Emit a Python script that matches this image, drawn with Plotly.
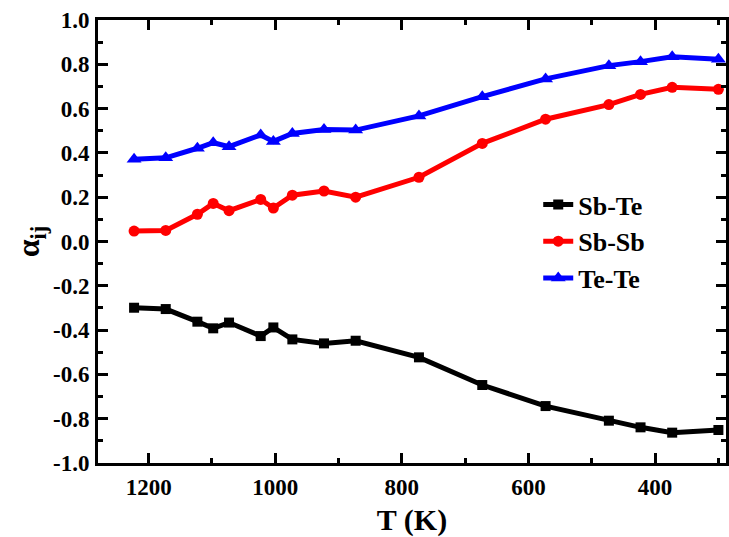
import plotly.graph_objects as go

temperature = [1223, 1173, 1123, 1098, 1073, 1023, 1003, 973, 923, 873,
               773, 673, 573, 473, 423, 373, 300]

sb_te = [-0.299, -0.305, -0.362, -0.392, -0.366, -0.427, -0.388, -0.442, -0.460,
         -0.448, -0.523, -0.648, -0.743, -0.809, -0.839, -0.863, -0.851]
sb_sb = [0.047, 0.050, 0.123, 0.172, 0.139, 0.190, 0.151, 0.209, 0.228, 0.200,
         0.290, 0.443, 0.552, 0.618, 0.664, 0.696, 0.687]
te_te = [0.371, 0.378, 0.421, 0.446, 0.428, 0.481, 0.452, 0.488, 0.506, 0.503,
         0.567, 0.654, 0.734, 0.794, 0.812, 0.834, 0.823]

series_names = ["Sb-Te", "Sb-Sb", "Te-Te"]
series_colors = ["#000000", "#ff0000", "#0000ff"]
series_symbols = ["square", "circle", "triangle-up"]
series_sizes = [10, 11, 13]

x_tickvals = [1200, 1000, 800, 600, 400]
x_ticktext = ["1200", "1000", "800", "600", "400"]
y_tickvals = [1.0, 0.8, 0.6, 0.4, 0.2, 0.0, -0.2, -0.4, -0.6, -0.8, -1.0]
y_ticktext = ["1.0", "0.8", "0.6", "0.4", "0.2", "0.0", "-0.2", "-0.4", "-0.6", "-0.8", "-1.0"]

FONT = "Liberation Serif, Times New Roman, serif"

fig = go.Figure()
for name, ys, col, sym, sz in zip(series_names, [sb_te, sb_sb, te_te],
                                  series_colors, series_symbols, series_sizes):
    fig.add_trace(go.Scatter(
        x=temperature, y=ys, name=name, mode="lines+markers",
        line=dict(color=col, width=5),
        marker=dict(symbol=sym, size=sz, color=col),
    ))

axis_common = dict(
    showline=True, linecolor="black", linewidth=3, mirror="allticks",
    ticks="inside", ticklen=10, tickwidth=3, tickcolor="black",
    showgrid=False, zeroline=False,
    tickfont=dict(family=FONT, size=23, color="black", weight="bold"),
)

fig.update_xaxes(
    **axis_common,
    range=[1280, 288],
    tickvals=x_tickvals, ticktext=x_ticktext,
    minor=dict(ticks="inside", ticklen=5, tickwidth=3, tickcolor="black", dtick=100, tick0=0),
    title=dict(text="T (K)", font=dict(family=FONT, size=30, color="black", weight="bold"), standoff=11),
    ticklabelstandoff=1,
)
fig.update_yaxes(
    **axis_common,
    range=[-1.0, 1.0],
    tickvals=y_tickvals, ticktext=y_ticktext,
    minor=dict(ticks="inside", ticklen=5, tickwidth=3, tickcolor="black", dtick=0.1, tick0=0),
    title=dict(text="α<sub>ij</sub>", font=dict(family=FONT, size=32, color="black", weight="bold"), standoff=4),
    ticklabelstandoff=1,
)

fig.update_layout(
    width=729, height=537,
    margin=dict(l=98, r=0, t=20, b=74),
    paper_bgcolor="white", plot_bgcolor="white",
    font=dict(family=FONT, color="black", weight="bold"),
    showlegend=True,
    legend=dict(
        x=0.701, y=0.5, xanchor="left", yanchor="middle",
        font=dict(family=FONT, size=26, color="black", weight="bold"),
        bgcolor="rgba(0,0,0,0)", tracegroupgap=0, itemwidth=30,
    ),
)

fig.write_html(
    "out.html",
    config={"displayModeBar": False},
    post_script="document.body.style.margin='0';document.body.style.overflow='hidden';",
)
